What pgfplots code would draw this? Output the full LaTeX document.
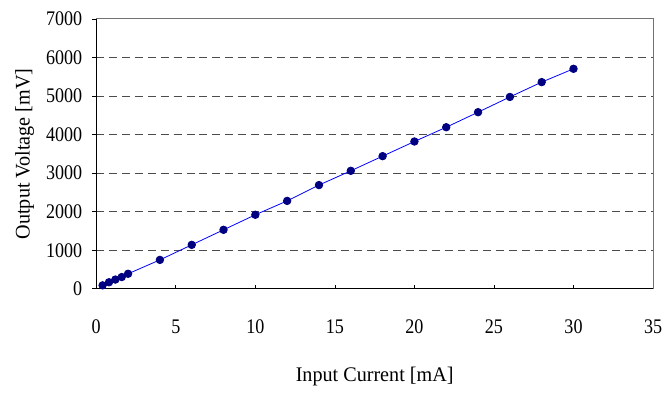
\documentclass[border=0pt]{standalone}
\usepackage{fontspec}
\setmainfont{Liberation Serif}
\newfontfamily\tickfont{Liberation Serif}[FakeStretch=0.87]
\newfontfamily\labfont{Liberation Serif}[FakeStretch=0.97]
\usepackage{pgfplots}
\pgfplotsset{compat=1.18}
\definecolor{ptnavy}{RGB}{0,0,128}
\begin{document}
\fontsize{21}{24}\selectfont
\begin{tikzpicture}[x=1bp,y=1bp]
\begin{axis}[
  scale only axis,
  width=561bp, height=272bp,
  xmin=0, xmax=35, ymin=0, ymax=7000,
  xtick={0,5,...,35}, ytick={0,1000,...,7000},
  axis x line*=bottom, axis y line*=left,
  axis line style={black, line width=1.3pt, -},
  x tick style={black, line width=0.7pt},
  y tick style={black, line width=0.7pt},
  xtick align=inside, ytick align=outside,
  major tick length=4bp,
  ymajorgrids,
  grid style={black!70, line width=0.9pt, dash pattern=on 8bp off 5bp},
  /pgf/number format/assume math mode=true,
  /pgf/number format/1000 sep={},
  xticklabel style={font=\tickfont\fontsize{21}{24}\selectfont, yshift=-24bp},
  yticklabel style={font=\tickfont\fontsize{21}{24}\selectfont, xshift=-3bp},
  xlabel={Input Current [mA]},
  ylabel={Output Voltage [mV]},
  label style={font=\labfont\fontsize{21}{24}\selectfont},
  xlabel style={yshift=-19bp},
  ylabel style={yshift=-2bp},
  clip=false,
]
\addplot[blue, line width=0.8pt, mark=*, mark size=3.8bp,
  mark options={fill=ptnavy, draw=ptnavy}] coordinates {
  (0.4,90) (0.8,170) (1.2,240) (1.6,305) (2,390)
  (4,750) (6,1140) (8,1530) (10,1920) (12,2280) (14,2690)
  (16,3060) (18,3440) (20,3820) (22,4190) (24,4580)
  (26,4975) (28,5360) (30,5705)
};
\draw[black!55, line width=1pt] (rel axis cs:0,1) -- (rel axis cs:1,1) -- (rel axis cs:1,0);
\path (rel axis cs:-0.1729,-0.3566) rectangle (rel axis cs:1.0196,1.0699);
\end{axis}
\end{tikzpicture}
\end{document}
